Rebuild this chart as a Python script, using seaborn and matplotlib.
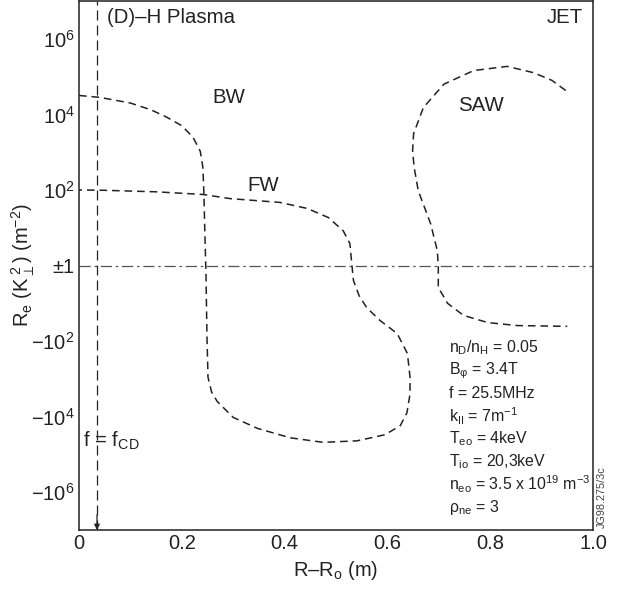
import matplotlib
matplotlib.use("Agg")
import matplotlib.pyplot as plt
import seaborn as sns
import numpy as np

# ---- data ----
# y is plotted on a signed-log scale: y = sign(K)*log10(|K|), ±1 -> 0
bw_fw_x = [0.0, 0.04, 0.10, 0.14, 0.17, 0.20, 0.222, 0.236, 0.241, 0.243, 0.245, 0.247,
           0.249, 0.251, 0.258, 0.269, 0.30, 0.347, 0.411, 0.475, 0.541, 0.595, 0.625,
           0.638, 0.644, 0.644, 0.639, 0.619, 0.586, 0.56, 0.545, 0.534, 0.531, 0.527,
           0.514, 0.485, 0.444, 0.391, 0.294, 0.241, 0.15, 0.05, 0.0]
bw_fw_y = [4.50, 4.45, 4.30, 4.12, 3.93, 3.70, 3.39, 3.02, 2.60, 1.90, 0.80, -0.20,
           -1.90, -2.96, -3.35, -3.60, -4.02, -4.31, -4.56, -4.68, -4.64, -4.48, -4.24,
           -3.90, -3.40, -2.96, -2.33, -1.80, -1.46, -1.12, -0.80, -0.40, 0.0, 0.58,
           0.92, 1.27, 1.51, 1.67, 1.77, 1.88, 1.95, 1.99, 2.0]
saw_x = [0.947, 0.92, 0.885, 0.833, 0.768, 0.71, 0.67, 0.651, 0.649, 0.652, 0.66, 0.684,
         0.697, 0.699, 0.699, 0.717, 0.748, 0.795, 0.853, 0.95]
saw_y = [4.63, 4.90, 5.10, 5.27, 5.16, 4.80, 4.18, 3.49, 3.04, 2.60, 1.98, 1.11,
         0.40, 0.0, -0.58, -1.00, -1.32, -1.51, -1.59, -1.61]
f_cd = 0.035

xticks = [0, 0.2, 0.4, 0.6, 0.8, 1.0]
xticklabels = ["0", "0.2", "0.4", "0.6", "0.8", "1.0"]
yticks = [6, 4, 2, 0, -2, -4, -6]
yticklabels = [r"$\mathregular{10^6}$", r"$\mathregular{10^4}$", r"$\mathregular{10^2}$",
               "±1", r"$\mathregular{-10^2}$", r"$\mathregular{-10^4}$", r"$\mathregular{-10^6}$"]
yminor = [5, 3, 1, -1, -3, -5]

params = [r"n$_\mathregular{D}$/n$_\mathregular{H}$ = 0.05",
          r"B$_\mathregular{φ}$ = 3.4T",
          "f = 25.5MHz",
          r"k$_\mathregular{II}$ = 7m$^\mathregular{-1}$",
          r"T$_\mathregular{eo}$ = 4keV",
          r"T$_\mathregular{io}$ = 20,3keV",
          r"n$_\mathregular{eo}$ = 3.5 x 10$^\mathregular{19}$ m$^\mathregular{-3}$",
          r"ρ$_\mathregular{ne}$ = 3"]

# ---- style ----
sns.set_style("white")
plt.rcParams["font.family"] = ["Liberation Sans", "DejaVu Sans"]
plt.rcParams["mathtext.fontset"] = "custom"
plt.rcParams["mathtext.rm"] = "Liberation Sans"
plt.rcParams["mathtext.it"] = "Liberation Sans:italic"
plt.rcParams["mathtext.bf"] = "Liberation Sans:bold"

fig = plt.figure(figsize=(6.22, 5.90), dpi=100)
ax = fig.add_axes([79/622, 1 - 530/590, (593-79)/622, (530-1)/590])

sns.lineplot(x=bw_fw_x, y=bw_fw_y, sort=False, estimator=None, ax=ax,
             color="#222222", lw=1.1)
sns.lineplot(x=saw_x, y=saw_y, sort=False, estimator=None, ax=ax,
             color="#222222", lw=1.1)
for ln in ax.lines:
    ln.set_dashes((5, 3.2))

ax.axhline(0, color="#555555", lw=0.9, dashes=(9, 3, 2, 3))
vl = ax.axvline(f_cd, color="#222222", lw=0.9)
vl.set_dashes((8, 4))
ax.annotate("", xy=(f_cd, -7), xytext=(f_cd, -6.6),
            arrowprops=dict(arrowstyle="-|>", color="#222222", lw=0.9,
                            mutation_scale=8, shrinkA=0, shrinkB=0))

ax.set_xlim(0, 1.0)
ax.set_ylim(-7, 7)
ax.set_xticks(xticks)
ax.set_xticklabels(xticklabels)
ax.set_yticks(yticks)
ax.set_yticklabels(yticklabels)
ax.set_yticks(yminor, minor=True)
ax.tick_params(axis="both", which="major", direction="in", length=7.5, width=1.0,
               color="#777777", labelsize=14.5, labelcolor="#222222", pad=3)
ax.tick_params(axis="y", which="minor", direction="in", length=4.5, width=1.0,
               color="#777777")
for s in ax.spines.values():
    s.set_color("#222222")
    s.set_linewidth(1.1)

ax.set_xlabel(r"R–R$_\mathregular{o}$ (m)", fontsize=14.5, color="#222222", labelpad=4)
ax.set_ylabel(r"R$_\mathregular{e}$ (K$_\perp^{\ \mathregular{2}}$) (m$^\mathregular{-2}$)",
              fontsize=14.5, color="#222222")
ax.yaxis.set_label_coords(-0.082, 0.5)

tc = "#222222"
fs = 14.7
ax.text(0.054, 6.56, "(D)–H Plasma", fontsize=fs, color=tc, va="center", ha="left")
ax.text(0.909, 6.56, "JET", fontsize=fs, color=tc, va="center", ha="left")
ax.text(0.259, 4.44, "BW", fontsize=fs, color=tc, va="center", ha="left")
ax.text(0.327, 2.12, "FW", fontsize=fs, color=tc, va="center", ha="left")
ax.text(0.738, 4.23, "SAW", fontsize=fs, color=tc, va="center", ha="left")
ax.text(0.008, -4.63, r"f = f$_\mathregular{CD}$", fontsize=fs, color=tc,
        va="center", ha="left")

for i, p in enumerate(params):
    ax.text(0.719, -2.17 - 0.605 * i, p, fontsize=11.4, color=tc, va="center",
            ha="left")

fig.text(602/622, 1 - 497/590, "JG98.275/3c", rotation=90, fontsize=7.8,
         color="#444444", ha="center", va="center")

fig.savefig("out.png", dpi=100)
